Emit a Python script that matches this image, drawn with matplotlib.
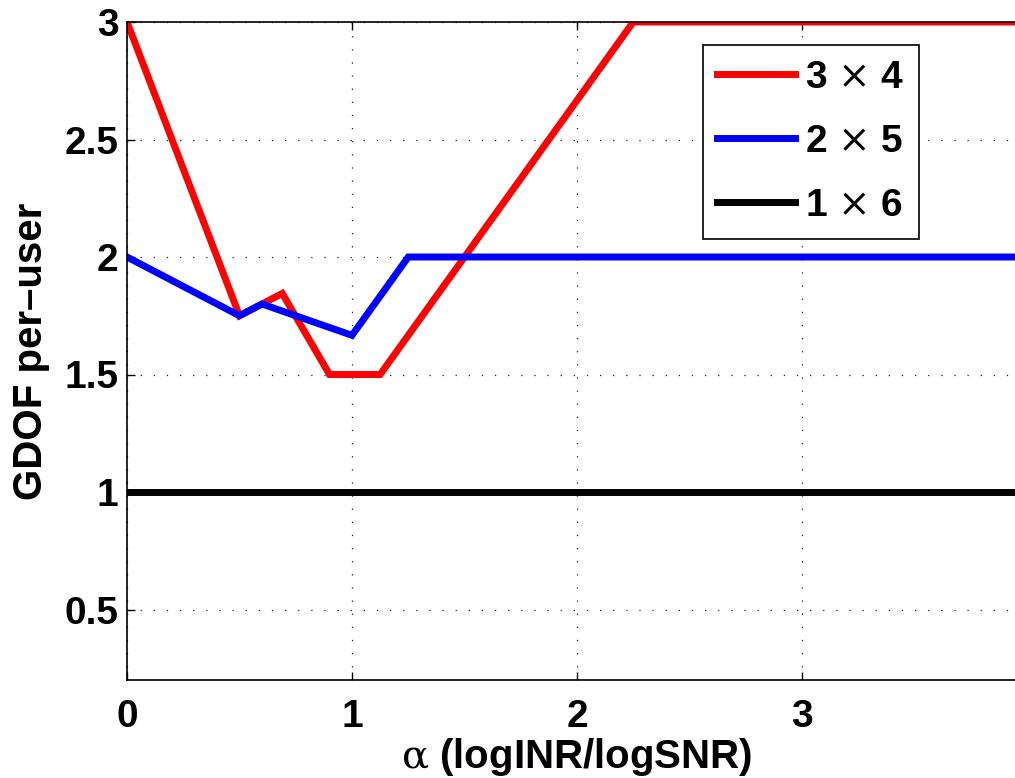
import matplotlib
matplotlib.use("Agg")
import matplotlib.pyplot as plt

plt.rcParams['font.family'] = ['Liberation Sans', 'DejaVu Sans']
plt.rcParams['font.weight'] = 'bold'
plt.rcParams['mathtext.fontset'] = 'custom'
plt.rcParams['mathtext.rm'] = 'DejaVu Serif:weight=normal'

# data
alpha_3x4 = [0, 0.5, 0.69, 0.9, 1.125, 2.25, 4]
gdof_3x4 = [3, 1.75, 1.845, 1.5, 1.5, 3, 3]

alpha_2x5 = [0, 0.5, 0.6, 1.0, 1.25, 4]
gdof_2x5 = [2, 1.75, 1.8, 5 / 3, 2, 2]

alpha_1x6 = [0, 4]
gdof_1x6 = [1, 1]

labels = ["3 $\\mathrm{\\times}$ 4", "2 $\\mathrm{\\times}$ 5", "1 $\\mathrm{\\times}$ 6"]
xticks = [0, 1, 2, 3]
yticks = [0.5, 1, 1.5, 2, 2.5, 3]

fig = plt.figure(figsize=(10.15, 7.78), dpi=100)
# axes run past the right edge, as in the cropped original
ax = fig.add_axes([127 / 1015, 1 - 680 / 778, 900 / 1015, 658 / 778])

ax.plot(alpha_3x4, gdof_3x4, color='#ff0000', lw=5, label=labels[0], solid_joinstyle='miter')
ax.plot(alpha_2x5, gdof_2x5, color='#0000ff', lw=5, label=labels[1], solid_joinstyle='miter')
ax.plot(alpha_1x6, gdof_1x6, color='black', lw=5, label=labels[2])

ax.set_xlim(0, 4)
ax.set_ylim(0.2, 3)
ax.set_xticks(xticks)
ax.set_xticklabels([f"{t:g}" for t in xticks])
ax.set_yticks(yticks)
ax.set_yticklabels([f"{t:g}" for t in yticks])
ax.tick_params(direction='in', length=6, width=1, labelsize=28, top=True, right=True)
ax.tick_params(axis='x', pad=14)
ax.tick_params(axis='y', pad=6)
for s in ax.spines.values():
    s.set_linewidth(1.2)

ax.grid(True, color='#222222', linestyle=(0, (1, 9.5)), linewidth=0.9)
ax.set_axisbelow(True)

ax.set_xlabel("$\\mathrm{\\alpha}$ (logINR/logSNR)", fontsize=29, fontweight='bold')
ax.xaxis.set_label_coords(0.5, -0.085)
ax.set_ylabel("GDOF per\u2013user", fontsize=29, fontweight='bold')
ax.yaxis.set_label_coords(-0.085, 0.5)

leg = ax.legend(loc='upper right', bbox_to_anchor=(919 / 1015, 1 - 45 / 778),
                bbox_transform=fig.transFigure, fontsize=28, fancybox=False,
                edgecolor='black', framealpha=1, handlelength=2.0,
                handletextpad=0.25, labelspacing=0.72, borderpad=0.38,
                borderaxespad=0)
leg.get_frame().set_linewidth(1.2)

fig.savefig("out.png", dpi=100)
